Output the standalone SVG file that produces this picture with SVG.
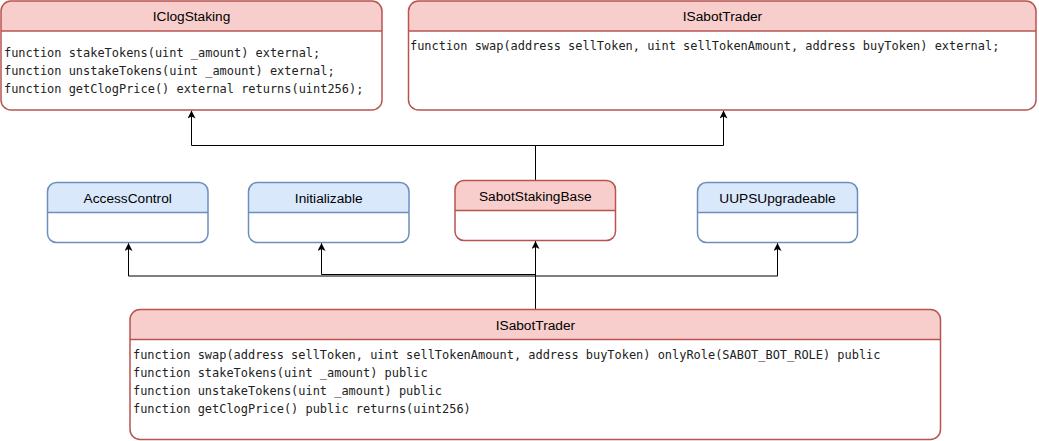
<svg xmlns="http://www.w3.org/2000/svg" width="1039" height="441" viewBox="0 0 1039 441">
  <defs>
    <marker id="arrow" markerUnits="userSpaceOnUse" markerWidth="9" markerHeight="8" refX="8" refY="4" orient="auto">
      <path d="M0,0 L8,4 L0,8 L2,4 Z" fill="#000"/>
    </marker>
  </defs>
  <style>
    .body { fill: #ffffff; }
    .red-h { fill: #f8cecc; }
    .blue-h { fill: #dae8fc; }
    .red-s { fill: none; stroke: #b85450; stroke-width: 1.5; }
    .blue-s { fill: none; stroke: #6c8ebf; stroke-width: 1.5; }
    .title { font-family: "Liberation Sans", Arial, sans-serif; font-size: 13.7px; fill: #000; text-anchor: middle; }
    .code { font-family: "DejaVu Sans Mono", monospace; font-size: 11.95px; fill: #222; }
    .edge { fill: none; stroke: #000; stroke-width: 1; marker-end: url(#arrow); }
  </style>

  <!-- inheritance connectors -->
  <g id="connectors">
    <path class="edge" d="M535.5,180.5 V145.5 H191.5 V110.5"/>
    <path class="edge" d="M535.5,180.5 V145.5 H723.5 V110.5"/>
    <path class="edge" d="M535.5,309 V241"/>
    <path class="edge" d="M535.5,309 V274.5 H321.5 V243"/>
    <path class="edge" d="M535.5,309 V276 H128.5 V243"/>
    <path class="edge" d="M535.5,309 V276 H777.5 V243"/>
  </g>

  <!-- IClogStaking interface -->
  <g id="IClogStaking">
    <rect class="body" x="1" y="1" width="381" height="109" rx="10"/>
    <path class="red-h" d="M1,31 V11 A10,10 0 0 1 11,1 H372 A10,10 0 0 1 382,11 V31 Z"/>
    <line class="red-s" x1="1" y1="31" x2="382" y2="31"/>
    <rect class="red-s" x="1" y="1" width="381" height="109" rx="10"/>
    <text class="title" x="191.5" y="21.3">IClogStaking</text>
    <text class="code" x="4" y="57">function stakeTokens(uint _amount) external;</text>
    <text class="code" x="4" y="75">function unstakeTokens(uint _amount) external;</text>
    <text class="code" x="4" y="93">function getClogPrice() external returns(uint256);</text>
  </g>

  <!-- ISabotTrader interface -->
  <g id="ISabotTrader-interface">
    <rect class="body" x="408.5" y="1" width="627.5" height="109" rx="10"/>
    <path class="red-h" d="M408.5,31 V11 A10,10 0 0 1 418.5,1 H1026 A10,10 0 0 1 1036,11 V31 Z"/>
    <line class="red-s" x1="408.5" y1="31" x2="1036" y2="31"/>
    <rect class="red-s" x="408.5" y="1" width="627.5" height="109" rx="10"/>
    <text class="title" x="722.5" y="21">ISabotTrader</text>
    <text class="code" x="410" y="50">function swap(address sellToken, uint sellTokenAmount, address buyToken) external;</text>
  </g>

  <!-- AccessControl -->
  <g id="AccessControl">
    <rect class="body" x="47.5" y="182.5" width="160.5" height="60" rx="9"/>
    <path class="blue-h" d="M47.5,212.5 V191.5 A9,9 0 0 1 56.5,182.5 H199 A9,9 0 0 1 208,191.5 V212.5 Z"/>
    <line class="blue-s" x1="47.5" y1="212.5" x2="208" y2="212.5"/>
    <rect class="blue-s" x="47.5" y="182.5" width="160.5" height="60" rx="9"/>
    <text class="title" x="127.7" y="203.3">AccessControl</text>
  </g>

  <!-- Initializable -->
  <g id="Initializable">
    <rect class="body" x="248.5" y="182.5" width="160.5" height="60" rx="9"/>
    <path class="blue-h" d="M248.5,212.5 V191.5 A9,9 0 0 1 257.5,182.5 H400 A9,9 0 0 1 409,191.5 V212.5 Z"/>
    <line class="blue-s" x1="248.5" y1="212.5" x2="409" y2="212.5"/>
    <rect class="blue-s" x="248.5" y="182.5" width="160.5" height="60" rx="9"/>
    <text class="title" x="328.7" y="203.3">Initializable</text>
  </g>

  <!-- SabotStakingBase -->
  <g id="SabotStakingBase">
    <rect class="body" x="455" y="180.5" width="160.5" height="60" rx="9"/>
    <path class="red-h" d="M455,210.5 V189.5 A9,9 0 0 1 464,180.5 H606.5 A9,9 0 0 1 615.5,189.5 V210.5 Z"/>
    <line class="red-s" x1="455" y1="210.5" x2="615.5" y2="210.5"/>
    <rect class="red-s" x="455" y="180.5" width="160.5" height="60" rx="9"/>
    <text class="title" x="535.3" y="200.7">SabotStakingBase</text>
  </g>

  <!-- UUPSUpgradeable -->
  <g id="UUPSUpgradeable">
    <rect class="body" x="697.5" y="182.5" width="160" height="60" rx="9"/>
    <path class="blue-h" d="M697.5,212.5 V191.5 A9,9 0 0 1 706.5,182.5 H848.5 A9,9 0 0 1 857.5,191.5 V212.5 Z"/>
    <line class="blue-s" x1="697.5" y1="212.5" x2="857.5" y2="212.5"/>
    <rect class="blue-s" x="697.5" y="182.5" width="160" height="60" rx="9"/>
    <text class="title" x="777.5" y="202.7">UUPSUpgradeable</text>
  </g>

  <!-- ISabotTrader implementation -->
  <g id="ISabotTrader-impl">
    <rect class="body" x="130" y="309.5" width="810.5" height="130" rx="10"/>
    <path class="red-h" d="M130,339.5 V319.5 A10,10 0 0 1 140,309.5 H930.5 A10,10 0 0 1 940.5,319.5 V339.5 Z"/>
    <line class="red-s" x1="130" y1="339.5" x2="940.5" y2="339.5"/>
    <rect class="red-s" x="130" y="309.5" width="810.5" height="130" rx="10"/>
    <text class="title" x="535.4" y="330">ISabotTrader</text>
    <text class="code" x="133" y="359">function swap(address sellToken, uint sellTokenAmount, address buyToken) onlyRole(SABOT_BOT_ROLE) public</text>
    <text class="code" x="133" y="377">function stakeTokens(uint _amount) public</text>
    <text class="code" x="133" y="395">function unstakeTokens(uint _amount) public</text>
    <text class="code" x="133" y="413">function getClogPrice() public returns(uint256)</text>
  </g>
</svg>
